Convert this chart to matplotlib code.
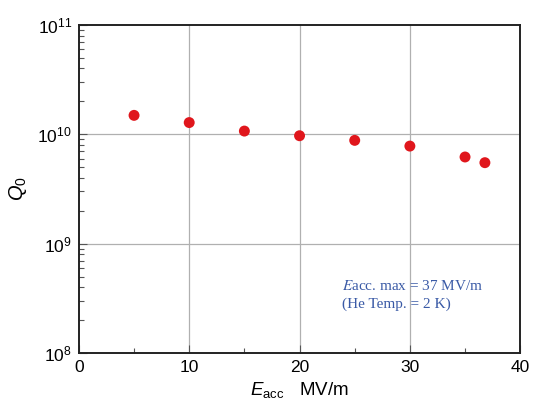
import math
import matplotlib
matplotlib.use("Agg")
import matplotlib.pyplot as plt
from matplotlib.ticker import FixedLocator, LogLocator, NullFormatter, FuncFormatter, MultipleLocator

E_acc = [5.0, 10.0, 15.0, 20.0, 25.0, 30.0, 35.0, 36.8]
Q0 = [1.49e10, 1.28e10, 1.07e10, 0.97e10, 8.8e9, 7.8e9, 6.2e9, 5.5e9]
x_ticks = [0, 10, 20, 30, 40]
y_ticks = [1e8, 1e9, 1e10, 1e11]

plt.rcParams['font.family'] = ['Liberation Sans', 'DejaVu Sans']
plt.rcParams['mathtext.fontset'] = 'custom'
plt.rcParams['mathtext.rm'] = 'Liberation Sans'
plt.rcParams['mathtext.it'] = 'Liberation Sans:italic'
plt.rcParams['mathtext.default'] = 'rm'

fig = plt.figure(figsize=(5.33, 4.09), dpi=100)
ax = fig.add_axes([0.148, 0.137, 0.828, 0.802])

ax.set_yscale('log')
ax.set_xlim(0, 40)
ax.set_ylim(1e8, 1e11)

ax.scatter(E_acc, Q0, s=62, color='#e0161c', edgecolors='none', zorder=3)

ax.xaxis.set_major_locator(FixedLocator(x_ticks))
ax.xaxis.set_minor_locator(MultipleLocator(5))
ax.yaxis.set_major_locator(FixedLocator(y_ticks))
ax.yaxis.set_minor_locator(LogLocator(base=10, subs=range(2, 10)))
ax.yaxis.set_minor_formatter(NullFormatter())
ax.yaxis.set_major_formatter(FuncFormatter(lambda v, p: r'$10^{%d}$' % round(math.log10(v))))

ax.tick_params(axis='both', which='major', direction='in', length=6, width=0.8,
               labelsize=12.5, color='#555555', top=False, right=False, pad=5)
ax.tick_params(axis='both', which='minor', direction='in', length=3.5, width=0.8,
               color='#555555', top=False, right=False)

for g in [10, 20, 30]:
    ax.axvline(g, color='#b0b0b0', lw=0.9, zorder=1)
for g in [1e9, 1e10]:
    ax.axhline(g, color='#b0b0b0', lw=0.9, zorder=1)

for s in ax.spines.values():
    s.set_linewidth(1.4)
    s.set_color('#222222')

ax.set_xlabel(r'$\mathit{E}_{\mathrm{acc}}$   MV/m', fontsize=13.5, labelpad=4)
ax.set_ylabel(r'$\mathit{Q}_0$', fontsize=14.5, labelpad=6)

ax.text(0.596, 0.192, r'$\mathit{E}$acc. max = 37 MV/m', transform=ax.transAxes,
        fontsize=11, color='#3a5aa6', family='Liberation Serif', va='baseline',
        math_fontfamily='stix')
ax.text(0.596, 0.137, '(He Temp. = 2 K)', transform=ax.transAxes,
        fontsize=11, color='#3a5aa6', family='Liberation Serif', va='baseline')

fig.savefig('out.png', dpi=100)
